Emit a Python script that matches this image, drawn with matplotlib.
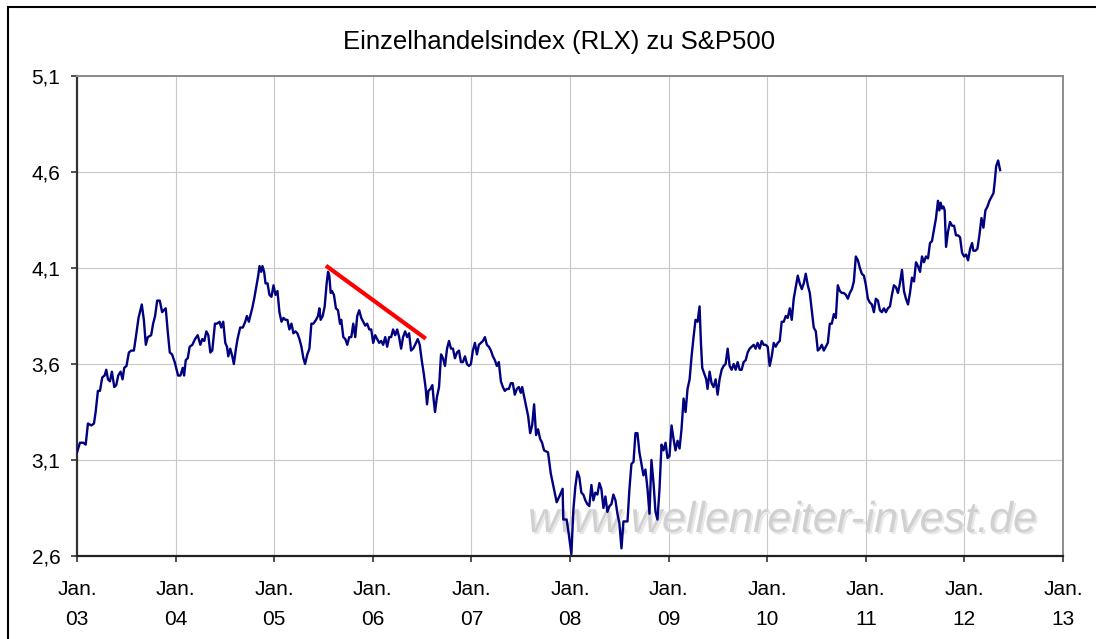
import numpy as np
import matplotlib
matplotlib.use('Agg')
import matplotlib.pyplot as plt
import matplotlib.patheffects as pe
from matplotlib.patches import Rectangle

# Daten (Dezimaljahre)
dates_a = [
    2003.000, 2003.030, 2003.064, 2003.088, 2003.111, 2003.145, 2003.172, 2003.189, 2003.212, 2003.233,
    2003.256, 2003.280, 2003.297, 2003.314, 2003.334, 2003.354, 2003.378, 2003.398, 2003.418, 2003.442,
    2003.462, 2003.479, 2003.502, 2003.526, 2003.550, 2003.577, 2003.597, 2003.624, 2003.657, 2003.678,
    2003.698, 2003.718, 2003.752, 2003.772, 2003.792, 2003.813, 2003.840, 2003.863, 2003.880, 2003.900,
    2003.920, 2003.941, 2003.964, 2003.991, 2004.025, 2004.049, 2004.072, 2004.086, 2004.103, 2004.123,
    2004.143, 2004.170, 2004.197, 2004.224, 2004.251, 2004.271, 2004.291, 2004.312, 2004.332, 2004.352,
    2004.372, 2004.399, 2004.419, 2004.446, 2004.463, 2004.483, 2004.504, 2004.521, 2004.534, 2004.554,
    2004.575, 2004.591, 2004.612, 2004.628, 2004.655, 2004.682, 2004.706, 2004.723, 2004.743, 2004.757,
    2004.777, 2004.797, 2004.817, 2004.838, 2004.851, 2004.868, 2004.881, 2004.898, 2004.912, 2004.932,
    2004.952, 2004.972, 2004.993, 2005.013, 2005.033, 2005.053, 2005.074, 2005.094, 2005.114, 2005.134,
    2005.154, 2005.175, 2005.195, 2005.215, 2005.235, 2005.256, 2005.276, 2005.296, 2005.313, 2005.336,
    2005.357, 2005.377, 2005.397, 2005.424, 2005.444, 2005.458, 2005.471, 2005.492, 2005.512, 2005.532,
    2005.546, 2005.559, 2005.573, 2005.586, 2005.606, 2005.626, 2005.647, 2005.667, 2005.680, 2005.701,
    2005.721, 2005.741, 2005.761, 2005.782, 2005.802, 2005.822, 2005.842, 2005.862, 2005.883, 2005.903,
    2005.923, 2005.943, 2005.964, 2005.984, 2006.004, 2006.024, 2006.045, 2006.065, 2006.085, 2006.105,
    2006.126, 2006.146, 2006.166, 2006.186, 2006.206, 2006.227, 2006.247, 2006.267, 2006.287, 2006.307,
    2006.328, 2006.348, 2006.368, 2006.388, 2006.409, 2006.429, 2006.456, 2006.476, 2006.496, 2006.517,
    2006.537, 2006.550, 2006.564, 2006.584, 2006.604, 2006.618, 2006.631, 2006.651, 2006.672, 2006.692,
    2006.712, 2006.732, 2006.753, 2006.773, 2006.793, 2006.813, 2006.833, 2006.854, 2006.874, 2006.894,
    2006.914, 2006.935, 2006.955, 2006.975, 2006.995, 2007.015, 2007.036, 2007.056, 2007.076, 2007.096,
    2007.117, 2007.137, 2007.157, 2007.177, 2007.198, 2007.218, 2007.238, 2007.258, 2007.278, 2007.299,
    2007.319, 2007.339, 2007.359, 2007.380, 2007.400, 2007.420, 2007.440, 2007.461, 2007.481, 2007.501,
    2007.515, 2007.535, 2007.555, 2007.575, 2007.596, 2007.616, 2007.636, 2007.656, 2007.676, 2007.697,
    2007.717, 2007.737, 2007.777, 2007.805, 2007.865,
]
ratio_a = [
    3.14, 3.19, 3.19, 3.18, 3.29, 3.28, 3.29, 3.35, 3.46, 3.46,
    3.53, 3.54, 3.57, 3.52, 3.51, 3.56, 3.48, 3.49, 3.54, 3.56,
    3.52, 3.58, 3.59, 3.66, 3.67, 3.67, 3.74, 3.84, 3.91, 3.83,
    3.70, 3.74, 3.75, 3.81, 3.85, 3.93, 3.93, 3.87, 3.88, 3.89,
    3.77, 3.66, 3.65, 3.61, 3.54, 3.54, 3.58, 3.54, 3.62, 3.63,
    3.69, 3.70, 3.73, 3.75, 3.70, 3.73, 3.72, 3.77, 3.75, 3.66,
    3.67, 3.81, 3.81, 3.82, 3.79, 3.82, 3.71, 3.69, 3.64, 3.68,
    3.64, 3.60, 3.68, 3.73, 3.79, 3.79, 3.82, 3.85, 3.82, 3.85,
    3.89, 3.94, 4.00, 4.06, 4.11, 4.08, 4.11, 4.08, 4.02, 4.02,
    3.96, 3.95, 4.01, 3.96, 3.98, 3.87, 3.82, 3.84, 3.83, 3.83,
    3.78, 3.81, 3.76, 3.77, 3.76, 3.73, 3.69, 3.63, 3.60, 3.65,
    3.68, 3.81, 3.81, 3.83, 3.85, 3.89, 3.83, 3.85, 3.90, 4.02,
    4.08, 4.06, 3.97, 3.98, 3.96, 3.89, 3.88, 3.81, 3.83, 3.74,
    3.73, 3.70, 3.74, 3.74, 3.81, 3.74, 3.85, 3.88, 3.84, 3.82,
    3.80, 3.81, 3.78, 3.78, 3.71, 3.75, 3.73, 3.71, 3.72, 3.70,
    3.74, 3.69, 3.74, 3.74, 3.78, 3.75, 3.78, 3.74, 3.68, 3.74,
    3.77, 3.74, 3.76, 3.67, 3.68, 3.70, 3.73, 3.70, 3.62, 3.55,
    3.47, 3.39, 3.46, 3.47, 3.49, 3.41, 3.35, 3.43, 3.48, 3.65,
    3.63, 3.59, 3.68, 3.72, 3.68, 3.68, 3.63, 3.66, 3.67, 3.61,
    3.61, 3.64, 3.60, 3.59, 3.60, 3.67, 3.71, 3.65, 3.70, 3.71,
    3.72, 3.74, 3.70, 3.69, 3.67, 3.64, 3.62, 3.59, 3.61, 3.51,
    3.48, 3.46, 3.47, 3.47, 3.50, 3.50, 3.44, 3.47, 3.48, 3.45,
    3.48, 3.43, 3.38, 3.33, 3.24, 3.28, 3.39, 3.23, 3.26, 3.21,
    3.19, 3.15, 3.14, 3.03, 2.88,
]
dates_b = [
    2007.892, 2007.925, 2007.932, 2007.966, 2007.986, 2008.014, 2008.034, 2008.054, 2008.075, 2008.095,
    2008.115, 2008.135, 2008.156, 2008.176, 2008.196, 2008.217, 2008.237, 2008.257, 2008.278, 2008.298,
    2008.318, 2008.339, 2008.359, 2008.379, 2008.400, 2008.420, 2008.440, 2008.461, 2008.481, 2008.501,
    2008.522, 2008.542, 2008.562, 2008.583, 2008.603, 2008.623, 2008.644, 2008.664, 2008.684, 2008.704,
    2008.725, 2008.745, 2008.765, 2008.786, 2008.806, 2008.826, 2008.847, 2008.867, 2008.887, 2008.908,
    2008.928, 2008.948, 2008.969, 2008.989, 2009.009, 2009.030, 2009.050, 2009.070, 2009.091, 2009.111,
    2009.131, 2009.152, 2009.172, 2009.192, 2009.213, 2009.233, 2009.253, 2009.273, 2009.294, 2009.314,
    2009.328, 2009.341, 2009.362, 2009.382, 2009.395, 2009.416, 2009.436, 2009.456, 2009.477, 2009.497,
    2009.517, 2009.538, 2009.558, 2009.578, 2009.599, 2009.619, 2009.639, 2009.660, 2009.680, 2009.700,
    2009.721, 2009.741, 2009.761, 2009.782, 2009.802, 2009.822, 2009.843, 2009.863, 2009.883, 2009.903,
    2009.924, 2009.944, 2009.964, 2009.985, 2010.005, 2010.025, 2010.046, 2010.066, 2010.086, 2010.107,
    2010.127, 2010.147, 2010.168, 2010.188, 2010.208, 2010.229, 2010.249, 2010.269, 2010.290, 2010.310,
    2010.330, 2010.351, 2010.371, 2010.391, 2010.412, 2010.432, 2010.452, 2010.472, 2010.493, 2010.513,
    2010.533, 2010.554, 2010.574, 2010.594, 2010.615, 2010.635, 2010.655, 2010.676, 2010.696, 2010.716,
    2010.737, 2010.757, 2010.777, 2010.798, 2010.818, 2010.838, 2010.859, 2010.879, 2010.899, 2010.920,
    2010.940, 2010.960, 2010.981, 2011.001, 2011.021, 2011.041, 2011.062, 2011.082, 2011.102, 2011.123,
    2011.143, 2011.163, 2011.184, 2011.204, 2011.224, 2011.245, 2011.265, 2011.285, 2011.306, 2011.326,
    2011.346, 2011.367, 2011.387, 2011.407, 2011.428, 2011.448, 2011.468, 2011.489, 2011.509, 2011.529,
    2011.550, 2011.570, 2011.590, 2011.610, 2011.631, 2011.651, 2011.671, 2011.692, 2011.712, 2011.732,
    2011.746, 2011.759, 2011.773, 2011.787, 2011.800, 2011.814, 2011.834, 2011.854, 2011.875, 2011.895,
    2011.915, 2011.936, 2011.956, 2011.976, 2011.997, 2012.017, 2012.037, 2012.058, 2012.078, 2012.091,
    2012.112, 2012.132, 2012.152, 2012.173, 2012.193, 2012.213, 2012.234, 2012.254, 2012.274, 2012.295,
    2012.308, 2012.322, 2012.342, 2012.362,
]
ratio_b = [
    2.91, 2.95, 2.79, 2.79, 2.72, 2.61, 2.84, 2.96, 3.04, 3.01,
    2.93, 2.92, 2.89, 2.87, 2.86, 2.97, 2.89, 2.93, 2.92, 2.98,
    2.95, 2.85, 2.91, 2.83, 2.86, 2.87, 2.92, 2.89, 2.82, 2.77,
    2.64, 2.78, 2.78, 2.78, 2.95, 3.08, 3.09, 3.24, 3.24, 3.14,
    3.08, 3.02, 3.05, 2.95, 2.82, 3.10, 2.98, 2.83, 2.79, 2.95,
    3.18, 3.15, 3.19, 3.11, 3.12, 3.28, 3.21, 3.15, 3.20, 3.16,
    3.26, 3.42, 3.35, 3.47, 3.52, 3.64, 3.74, 3.83, 3.82, 3.90,
    3.71, 3.58, 3.55, 3.52, 3.47, 3.56, 3.50, 3.48, 3.52, 3.44,
    3.52, 3.57, 3.59, 3.60, 3.68, 3.59, 3.57, 3.60, 3.57, 3.61,
    3.57, 3.57, 3.61, 3.62, 3.66, 3.68, 3.69, 3.70, 3.68, 3.71,
    3.68, 3.72, 3.70, 3.70, 3.69, 3.59, 3.64, 3.71, 3.69, 3.71,
    3.72, 3.82, 3.82, 3.85, 3.84, 3.89, 3.83, 3.94, 4.00, 4.06,
    4.02, 3.99, 4.02, 4.07, 4.01, 3.97, 3.88, 3.79, 3.77, 3.67,
    3.68, 3.70, 3.67, 3.69, 3.71, 3.81, 3.81, 3.86, 3.84, 4.01,
    3.98, 3.97, 3.97, 3.96, 3.94, 3.97, 3.99, 4.03, 4.16, 4.14,
    4.10, 4.07, 4.06, 4.01, 3.94, 3.92, 3.91, 3.87, 3.94, 3.93,
    3.88, 3.87, 3.89, 3.87, 3.89, 3.90, 3.96, 4.01, 4.00, 3.97,
    4.02, 4.09, 3.98, 3.94, 3.91, 3.97, 4.05, 4.03, 4.13, 4.11,
    4.08, 4.16, 4.13, 4.16, 4.15, 4.23, 4.24, 4.30, 4.36, 4.45,
    4.40, 4.44, 4.41, 4.42, 4.40, 4.21, 4.29, 4.34, 4.32, 4.32,
    4.27, 4.27, 4.26, 4.18, 4.16, 4.17, 4.14, 4.20, 4.23, 4.19,
    4.19, 4.20, 4.27, 4.36, 4.31, 4.40, 4.42, 4.45, 4.47, 4.49,
    4.55, 4.63, 4.66, 4.61,
]

# rote Trendlinie
trend_x = [2005.525, 2006.537]
trend_y = [4.112, 3.732]

y_ticks = [2.6, 3.1, 3.6, 4.1, 4.6, 5.1]
y_labels = ['2,6', '3,1', '3,6', '4,1', '4,6', '5,1']
x_ticks = list(range(2003, 2014))
x_labels = ['Jan.\n%02d' % (j % 100) for j in x_ticks]

title = 'Einzelhandelsindex (RLX) zu S&P500'
watermark = 'www.wellenreiter-invest.de'

plt.rcParams['font.family'] = ['Liberation Sans', 'DejaVu Sans']

W, H = 1096, 639
fig = plt.figure(figsize=(W / 100, H / 100), dpi=100)
ax = fig.add_axes([77 / W, 1 - 556 / H, 986 / W, 480 / H])

ax.plot(dates_a + dates_b, ratio_a + ratio_b, color='#000080', lw=1.7, zorder=3)
ax.plot(trend_x, trend_y, color='#ff0000', lw=3, solid_capstyle='butt', zorder=4)

ax.set_xlim(2003, 2013)
ax.set_ylim(2.6, 5.1)
ax.set_xticks(x_ticks)
ax.set_xticklabels(x_labels, linespacing=1.75)
ax.set_yticks(y_ticks)
ax.set_yticklabels(y_labels)

ax.grid(True, color='#c8c8c8', lw=0.8)
ax.set_axisbelow(True)

ax.spines['left'].set_color('#333333')
ax.spines['bottom'].set_color('#222222')
ax.spines['left'].set_linewidth(1.6)
ax.spines['bottom'].set_linewidth(1.6)
for s in ['top', 'right']:
    ax.spines[s].set_color('#8c8c8c')
    ax.spines[s].set_linewidth(1.4)

ax.tick_params(axis='both', labelsize=15, length=4, width=1.2, color='#333333')
ax.tick_params(axis='y', pad=8)
ax.tick_params(axis='x', pad=13)

fig.text(559 / W, 1 - 42 / H, title, ha='center', va='center', fontsize=18.5)

ax.text(528 / W, 1 - 532 / H, watermark, transform=fig.transFigure,
        fontsize=31, style='italic', color='#d0d0d0', zorder=2,
        path_effects=[pe.withSimplePatchShadow(offset=(1.5, -1.5), shadow_rgbFace='#e8e8e8', alpha=1)])

# Rahmen um die Grafik (rechts/unten abgeschnitten)
fig.patches.append(Rectangle((7.5 / W, -0.1), 1.5, 0.1 + 1 - 6.5 / H,
                             transform=fig.transFigure, fill=False, ec='black', lw=1.5))

fig.savefig('out.png', dpi=100)
